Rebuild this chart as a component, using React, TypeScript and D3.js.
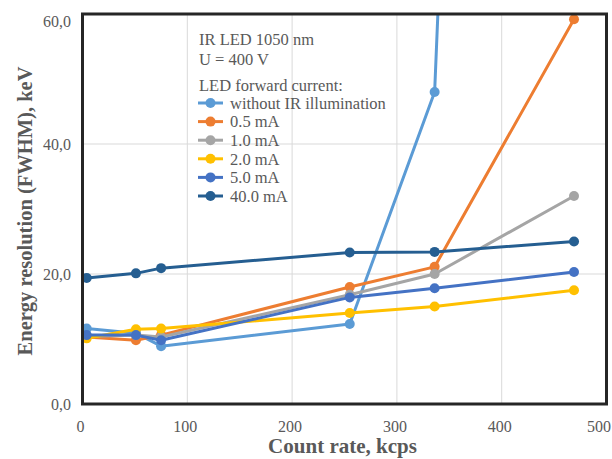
import React from "react";
import * as d3 from "d3";

const countRates = [4, 51, 75, 255, 336, 469];
const noIrCountRates = [4, 51, 75, 255, 336, 345];
const noIr = [11.6, 10.9, 8.9, 12.3, 48.0, 83];
const mA05 = [10.3, 9.8, 10.6, 18.0, 21.1, 59.2];
const mA10 = [10.4, 10.6, 10.3, 16.8, 20.0, 32.0];
const mA20 = [10.1, 11.5, 11.6, 14.0, 15.0, 17.5];
const mA50 = [10.6, 10.6, 9.8, 16.4, 17.8, 20.3];
const mA400 = [19.4, 20.1, 20.9, 23.3, 23.4, 25.0];

const seriesNames = ["without IR illumination", "0.5 mA", "1.0 mA", "2.0 mA", "5.0 mA", "40.0 mA"];
const seriesColors = ["#5B9BD5", "#ED7D31", "#A5A5A5", "#FFC000", "#4472C4", "#255E91"];
const seriesX = [noIrCountRates, countRates, countRates, countRates, countRates, countRates];
const seriesY = [noIr, mA05, mA10, mA20, mA50, mA400];

const xTicks = [0, 100, 200, 300, 400, 500];
const yTicks = [0, 20, 40, 60];
const legendHeader = ["IR LED 1050 nm", "U = 400 V", "LED forward current:"];

export default function App() {
  const W = 612, H = 459;
  const left = 82.5, right = 606.5, top = 14, bottom = 404;
  const x = d3.scaleLinear().domain([0, 500]).range([left, right]);
  const y = d3.scaleLinear().domain([0, 60]).range([bottom, top]);
  const line = d3.line<[number, number]>().x(d => x(d[0])).y(d => y(d[1]));
  const textColor = "#595959";
  const font = "'Liberation Serif', 'Times New Roman', serif";

  return (
    <svg width={W} height={H} style={{ position: "absolute", left: 0, top: 0, background: "#fff" }} fontFamily={font}>
      <defs>
        <clipPath id="plotClip">
          <rect x={left} y={top} width={right - left} height={bottom - top} />
        </clipPath>
      </defs>
      <rect x={0} y={0} width={W} height={H} fill="#fff" />
      {/* gridlines */}
      {xTicks.slice(1, -1).map(t => (
        <line key={"gx" + t} x1={x(t)} x2={x(t)} y1={top} y2={bottom} stroke="#D9D9D9" strokeWidth={1} />
      ))}
      {yTicks.slice(1, -1).map(t => (
        <line key={"gy" + t} x1={left} x2={right} y1={y(t)} y2={y(t)} stroke="#D9D9D9" strokeWidth={1} />
      ))}
      {/* series */}
      <g clipPath="url(#plotClip)">
        {seriesY.map((vals, i) => {
          const pts: [number, number][] = vals.map((v, j) => [seriesX[i][j], v]);
          return (
            <g key={"s" + i}>
              <path d={line(pts) || ""} fill="none" stroke={seriesColors[i]} strokeWidth={3} strokeLinejoin="round" />
              {pts.filter(p => p[1] <= 60).map((p, j) => (
                <circle key={j} cx={x(p[0])} cy={y(p[1])} r={5} fill={seriesColors[i]} />
              ))}
            </g>
          );
        })}
      </g>
      {/* frame */}
      <rect x={left} y={top} width={right - left} height={bottom - top} fill="none" stroke="#262626" strokeWidth={3} />
      {/* y tick labels */}
      {yTicks.map(t => (
        <text key={"yt" + t} x={71} y={Math.max(y(t), 21)} dy="0.35em" textAnchor="end" fontSize={16} fill={textColor}>
          {t.toFixed(1).replace(".", ",")}
        </text>
      ))}
      {/* x tick labels */}
      {xTicks.map(t => (
        <text key={"xt" + t} x={Math.min(x(t) - 2, 599)} y={432} textAnchor="middle" fontSize={16} fill={textColor}>
          {t}
        </text>
      ))}
      {/* axis titles */}
      <text x={(left + right) / 2 - 2} y={453} textAnchor="middle" fontSize={21} fontWeight="bold" fill={textColor}>
        Count rate, kcps
      </text>
      <text transform={`translate(32,211) rotate(-90)`} textAnchor="middle" fontSize={20.5} fontWeight="bold" fill={textColor}>
        Energy resolution (FWHM), keV
      </text>
      {/* legend */}
      {legendHeader.map((s, i) => (
        <text key={"lh" + i} x={199} y={[39, 59, 85][i]} dy="0.35em" fontSize={16.5} fill={textColor}>
          {s}
        </text>
      ))}
      {seriesNames.map((n, i) => {
        const ly = 103 + i * 18.6;
        return (
          <g key={"lg" + i}>
            <line x1={198} x2={223} y1={ly} y2={ly} stroke={seriesColors[i]} strokeWidth={3} />
            <circle cx={210.5} cy={ly} r={5} fill={seriesColors[i]} />
            <text x={230} y={ly} dy="0.35em" fontSize={16.5} fill={textColor}>
              {n}
            </text>
          </g>
        );
      })}
    </svg>
  );
}
